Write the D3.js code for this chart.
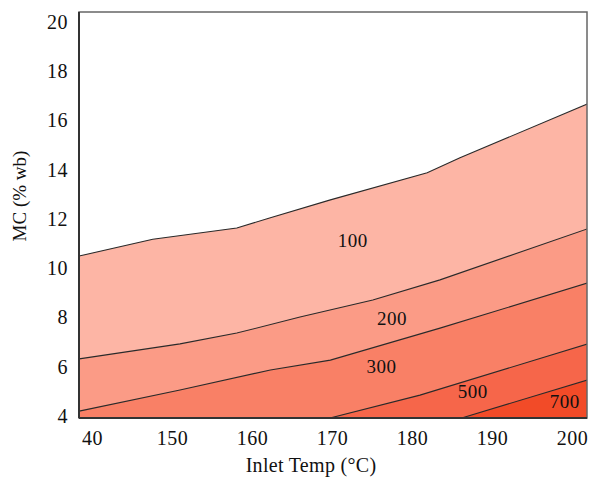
<!DOCTYPE html>
<html>
<head>
<meta charset="utf-8">
<script src="https://cdn.jsdelivr.net/npm/d3@7"></script>
<style>
  body { margin: 0; background: #fff; }
  text { font-family: "Liberation Serif", "Times New Roman", serif; fill: #111; }
</style>
</head>
<body>
<div id="chart"></div>
<script>
// Contour lines (x = inlet temp, y = MC)
var levels = ["100", "200", "300", "500", "700"];
var line100 = [[138.4, 10.50], [147.6, 11.18], [158.1, 11.64], [162.3, 12.05], [169.8, 12.78], [181.9, 13.88], [186.0, 14.49], [201.9, 16.67]];
var line200 = [[138.4, 6.32], [151.0, 6.93], [158.1, 7.37], [166.0, 8.02], [175.1, 8.71], [183.5, 9.53], [201.9, 11.60]];
var line300 = [[138.4, 4.20], [151.0, 5.06], [162.3, 5.87], [169.8, 6.27], [183.5, 7.57], [201.9, 9.40]];
var line500 = [[169.5, 3.90], [181.0, 4.85], [201.9, 6.92]];
var line700 = [[186.0, 3.90], [201.9, 5.46]];
var fillColors = ["#fdb5a5", "#fb9b86", "#f98066", "#f6664a", "#f24b28"];
var labelPos = [[172.6, 11.15], [177.5, 7.98], [176.2, 6.0], [187.6, 5.02], [199.1, 4.58]];

var xTicks = [140, 150, 160, 170, 180, 190, 200];
var xTickLabels = ["40", "150", "160", "170", "180", "190", "200"];
var yTicks = [4, 6, 8, 10, 12, 14, 16, 18, 20];

var width = 591, height = 479;
var margin = {top: 12, left: 79, right: 4, bottom: 61};
var innerW = width - margin.left - margin.right,
    innerH = height - margin.top - margin.bottom;

var svg = d3.select("#chart").append("svg")
    .attr("width", width)
    .attr("height", height);

var x = d3.scaleLinear().domain([138.375, 201.875]).range([0, innerW]);
var y = d3.scaleLinear().domain([3.92, 20.41]).range([innerH, 0]);

var g = svg.append("g")
    .attr("transform", "translate(" + margin.left + "," + margin.top + ")");

g.append("clipPath").attr("id", "clip")
    .append("rect").attr("width", innerW).attr("height", innerH);

var plot = g.append("g").attr("clip-path", "url(#clip)");

var lines = [line100, line200, line300, line500, line700];

var area = d3.area()
    .x(function(d) { return x(d[0]); })
    .y0(innerH + 5)
    .y1(function(d) { return y(d[1]); });

var line = d3.line()
    .x(function(d) { return x(d[0]); })
    .y(function(d) { return y(d[1]); });

// fill below each contour, lowest level first
lines.forEach(function(pts, i) {
    plot.append("path")
        .datum(pts)
        .attr("d", area)
        .attr("fill", fillColors[i]);
});

lines.forEach(function(pts) {
    plot.append("path")
        .datum(pts)
        .attr("d", line)
        .attr("fill", "none")
        .attr("stroke", "#2a2a2a")
        .attr("stroke-width", 1.1);
});

// contour labels
g.selectAll(".clabel")
    .data(levels)
    .join("text")
    .attr("class", "clabel")
    .attr("x", function(d, i) { return x(labelPos[i][0]); })
    .attr("y", function(d, i) { return y(labelPos[i][1]); })
    .attr("dy", "0.35em")
    .attr("text-anchor", "middle")
    .style("font-size", "19px")
    .style("letter-spacing", "0.5px")
    .text(function(d) { return d; });

// frame
g.append("rect")
    .attr("width", innerW).attr("height", innerH)
    .attr("fill", "none")
    .attr("stroke", "#666")
    .attr("stroke-width", 1.5);
g.append("line")
    .attr("x1", 0).attr("x2", 0).attr("y1", 0).attr("y2", innerH)
    .attr("stroke", "#333").attr("stroke-width", 2);
g.append("line")
    .attr("x1", 0).attr("x2", innerW).attr("y1", innerH).attr("y2", innerH)
    .attr("stroke", "#333").attr("stroke-width", 2);

// axes
var xAxis = d3.axisBottom(x)
    .tickValues(xTicks)
    .tickSize(0)
    .tickPadding(13)
    .tickFormat(function(d, i) { return xTickLabels[i]; });
var gx = g.append("g")
    .attr("transform", "translate(0," + innerH + ")")
    .call(xAxis);
gx.select(".domain").remove();
gx.selectAll("text")
    .style("font-family", "Liberation Serif, serif")
    .style("font-size", "20px")
    .style("letter-spacing", "0.5px")
    .attr("fill", "#111");

var yAxis = d3.axisLeft(y)
    .tickValues(yTicks)
    .tickSize(0)
    .tickPadding(11);
var gy = g.append("g").call(yAxis);
gy.select(".domain").remove();
gy.selectAll("text")
    .style("font-family", "Liberation Serif, serif")
    .style("font-size", "20px")
    .style("letter-spacing", "0.5px")
    .attr("fill", "#111");

// axis titles
svg.append("text")
    .attr("x", 311)
    .attr("y", 472)
    .attr("text-anchor", "middle")
    .style("font-size", "20px")
    .style("letter-spacing", "0.3px")
    .text("Inlet Temp (°C)");

svg.append("text")
    .attr("transform", "translate(26,196) rotate(-90)")
    .attr("text-anchor", "middle")
    .style("font-size", "19px")
    .text("MC (% wb)");
</script>
</body>
</html>
